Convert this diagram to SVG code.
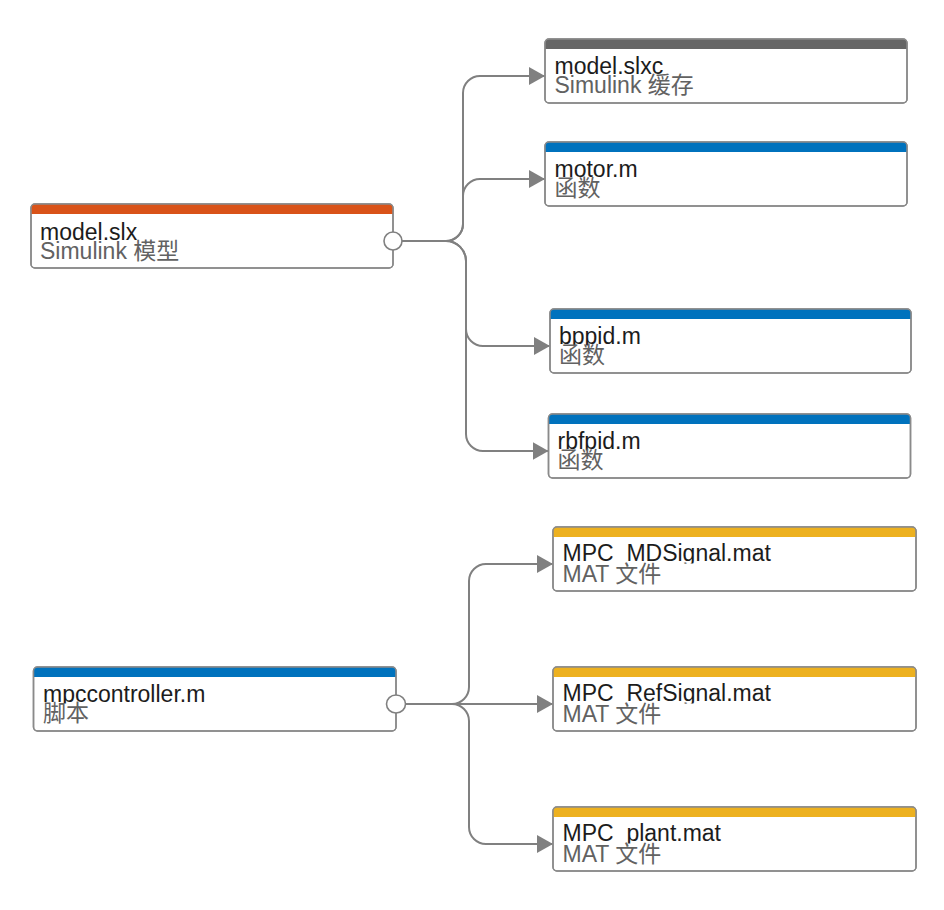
<svg xmlns="http://www.w3.org/2000/svg" width="944" height="910" viewBox="0 0 944 910">
  <style>
    .box { fill: #ffffff; stroke: #8a8a8a; stroke-width: 1.5; }
    .frame { fill: none; stroke: #8a8a8a; stroke-width: 1.5; }
    .title { font-family: "Liberation Sans", "Noto Sans CJK SC", sans-serif; font-size: 23px; fill: #1c1c1c; }
    .sub { font-family: "Liberation Sans", "Noto Sans CJK SC", sans-serif; font-size: 23px; fill: #626262; }
    .edge { fill: none; stroke: #808080; stroke-width: 2; marker-end: url(#arrow); }
    .port { fill: #ffffff; stroke: #808080; stroke-width: 1.6; }
    .h-orange { fill: #D95319; }
    .h-gray { fill: #666666; }
    .h-blue { fill: #0072BD; }
    .h-yellow { fill: #EDB120; }
  </style>
  <defs>
    <marker id="arrow" viewBox="0 0 16 18" refX="16" refY="9" markerWidth="16" markerHeight="18" markerUnits="userSpaceOnUse" orient="auto">
      <path d="M0,0 L16,9 L0,18 Z" fill="#808080"/>
    </marker>
    <clipPath id="titleClip" clipPathUnits="userSpaceOnUse">
      <rect x="0" y="0" width="362" height="36.5"/>
    </clipPath>
  </defs>
  <rect width="944" height="910" fill="#ffffff"/>

  <g id="connectors">
    <path class="edge" d="M393,241 H446 A17,17 0 0 0 463,224 V93 A17,17 0 0 1 480,76 H545"/>
    <path class="edge" d="M393,241 H446 A17,17 0 0 0 463,224 V196 A17,17 0 0 1 480,179 H545"/>
    <path class="edge" d="M393,241 H446 A20,20 0 0 1 466,261 V329 A17,17 0 0 0 483,346 H550"/>
    <path class="edge" d="M393,241 H446 A20,20 0 0 1 466,261 V434 A17,17 0 0 0 483,451 H548.5"/>
    <path class="edge" d="M396,704 H452 A17,17 0 0 0 469,687 V581 A17,17 0 0 1 486,564 H553"/>
    <path class="edge" d="M396,704 H553"/>
    <path class="edge" d="M396,704 H452 A17,17 0 0 1 469,721 V827 A17,17 0 0 0 486,844 H553"/>
  </g>

  <g id="model_slx" transform="translate(31,204)">
    <rect class="box" x="0" y="0" width="362" height="64" rx="4"/>
    <path class="h-orange" d="M0,10 V4 Q0,0 4,0 H358 Q362,0 362,4 V10 Z"/>
    <rect class="frame" x="0" y="0" width="362" height="64" rx="4"/>
    <text class="title" x="9" y="35.5" clip-path="url(#titleClip)">model.slx</text>
    <text class="sub" x="9" y="55">Simulink 模型</text>
    <circle class="port" cx="362" cy="37" r="9"/>
  </g>

  <g id="model_slxc" transform="translate(545,39)">
    <rect class="box" x="0" y="0" width="362" height="64" rx="4"/>
    <path class="h-gray" d="M0,10 V4 Q0,0 4,0 H358 Q362,0 362,4 V10 Z"/>
    <rect class="frame" x="0" y="0" width="362" height="64" rx="4"/>
    <text class="title" x="9.5" y="35" clip-path="url(#titleClip)">model.slxc</text>
    <text class="sub" x="9.5" y="53.5">Simulink 缓存</text>
  </g>

  <g id="motor_m" transform="translate(545,142)">
    <rect class="box" x="0" y="0" width="362" height="64" rx="4"/>
    <path class="h-blue" d="M0,10 V4 Q0,0 4,0 H358 Q362,0 362,4 V10 Z"/>
    <rect class="frame" x="0" y="0" width="362" height="64" rx="4"/>
    <text class="title" x="9.5" y="35" clip-path="url(#titleClip)">motor.m</text>
    <text class="sub" x="9.5" y="53.5">函数</text>
  </g>

  <g id="bppid_m" transform="translate(550,309)">
    <rect class="box" x="0" y="0" width="361" height="64" rx="4"/>
    <path class="h-blue" d="M0,10 V4 Q0,0 4,0 H357 Q361,0 361,4 V10 Z"/>
    <rect class="frame" x="0" y="0" width="361" height="64" rx="4"/>
    <text class="title" x="9" y="35" clip-path="url(#titleClip)">bppid.m</text>
    <text class="sub" x="9" y="53.5">函数</text>
  </g>

  <g id="rbfpid_m" transform="translate(548.5,414)">
    <rect class="box" x="0" y="0" width="362" height="64" rx="4"/>
    <path class="h-blue" d="M0,10 V4 Q0,0 4,0 H358 Q362,0 362,4 V10 Z"/>
    <rect class="frame" x="0" y="0" width="362" height="64" rx="4"/>
    <text class="title" x="9" y="35" clip-path="url(#titleClip)">rbfpid.m</text>
    <text class="sub" x="9" y="53.5">函数</text>
  </g>

  <g id="mpccontroller_m" transform="translate(33.5,667)">
    <rect class="box" x="0" y="0" width="362.5" height="64" rx="4"/>
    <path class="h-blue" d="M0,10 V4 Q0,0 4,0 H358.5 Q362.5,0 362.5,4 V10 Z"/>
    <rect class="frame" x="0" y="0" width="362.5" height="64" rx="4"/>
    <text class="title" x="9.5" y="34.5" clip-path="url(#titleClip)">mpccontroller.m</text>
    <text class="sub" x="9.5" y="54">脚本</text>
    <ellipse class="port" cx="362.5" cy="37" rx="9.5" ry="9"/>
  </g>

  <g id="MPC_MDSignal_mat" transform="translate(553,527)">
    <rect class="box" x="0" y="0" width="363" height="64" rx="4"/>
    <path class="h-yellow" d="M0,10 V4 Q0,0 4,0 H359 Q363,0 363,4 V10 Z"/>
    <rect class="frame" x="0" y="0" width="363" height="64" rx="4"/>
    <text class="title" x="9.5" y="34" clip-path="url(#titleClip)">MPC_MDSignal.mat</text>
    <text class="sub" x="9.5" y="55">MAT 文件</text>
  </g>

  <g id="MPC_RefSignal_mat" transform="translate(553,667)">
    <rect class="box" x="0" y="0" width="363" height="64" rx="4"/>
    <path class="h-yellow" d="M0,10 V4 Q0,0 4,0 H359 Q363,0 363,4 V10 Z"/>
    <rect class="frame" x="0" y="0" width="363" height="64" rx="4"/>
    <text class="title" x="9.5" y="34" clip-path="url(#titleClip)">MPC_RefSignal.mat</text>
    <text class="sub" x="9.5" y="55">MAT 文件</text>
  </g>

  <g id="MPC_plant_mat" transform="translate(553,807)">
    <rect class="box" x="0" y="0" width="363" height="64" rx="4"/>
    <path class="h-yellow" d="M0,10 V4 Q0,0 4,0 H359 Q363,0 363,4 V10 Z"/>
    <rect class="frame" x="0" y="0" width="363" height="64" rx="4"/>
    <text class="title" x="9.5" y="34" clip-path="url(#titleClip)">MPC_plant.mat</text>
    <text class="sub" x="9.5" y="55">MAT 文件</text>
  </g>
</svg>
